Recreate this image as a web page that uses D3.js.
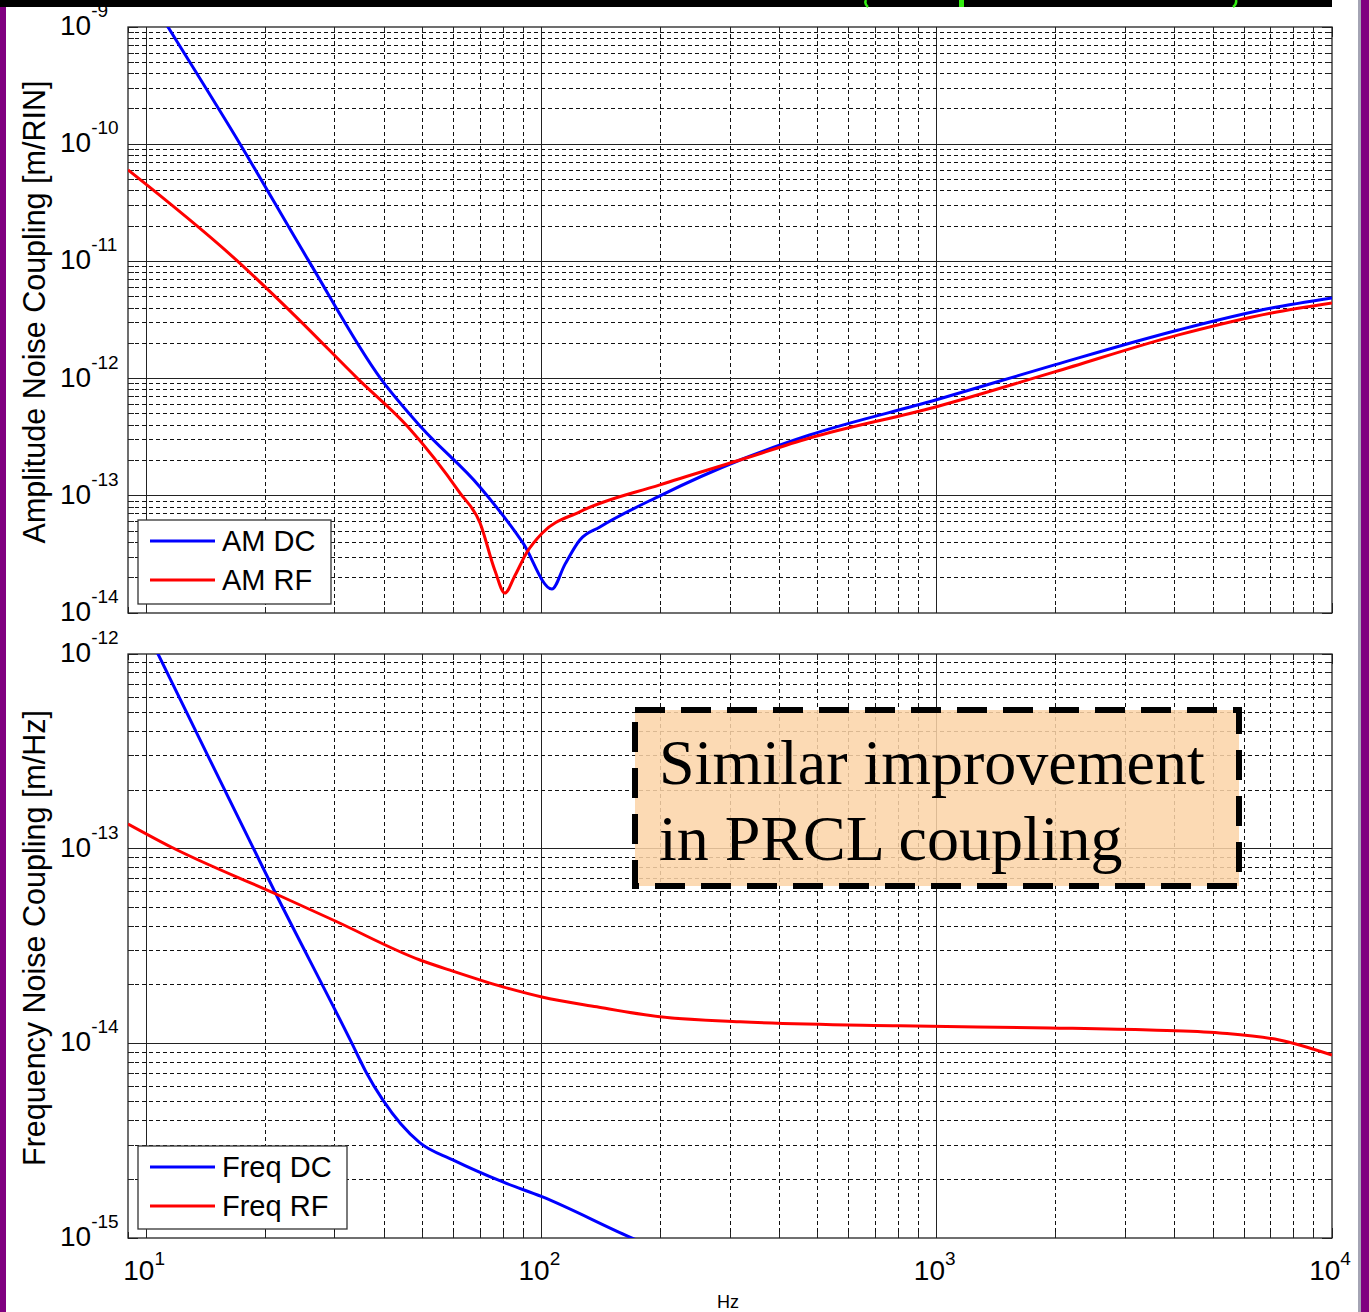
<!DOCTYPE html>
<html>
<head>
<meta charset="utf-8">
<script src="https://cdn.jsdelivr.net/npm/d3@7"></script>
<style>
body { margin: 0; background: #fff; }
</style>
</head>
<body>
<svg id="chart" width="1369" height="1312"></svg>
<script>

// data (Hz, coupling)
var amDcFreq = [10, 11.36, 17.3, 25.7, 39.3, 49.6, 69.9, 89.8, 106.3, 114.7, 125.1, 140.6, 199.4, 318, 477, 994, 1987, 4090, 7030, 10000];
var amDcVal  = [2.0e-9, 1e-9, 1.0e-10, 1.03e-11, 9.9e-13, 3.86e-13, 1.19e-13, 3.96e-14, 1.6e-14, 2.6e-14, 4.2e-14, 5.42e-14, 1.0e-13, 2.02e-13, 3.3e-13, 6.56e-13, 1.31e-12, 2.6e-12, 4.0e-12, 4.88e-12];

var amRfFreq = [9, 16.9, 24.1, 34.4, 46.0, 62.2, 69.9, 76.2, 80.8, 85.8, 91.9, 100.4, 125, 199.4, 318, 477, 994, 1987, 4090, 7030, 10000];
var amRfVal  = [6.03e-11, 1.03e-11, 3.3e-12, 9.9e-13, 3.86e-13, 1.06e-13, 5.9e-14, 2.33e-14, 1.48e-14, 2.1e-14, 3.3e-14, 4.8e-14, 7.3e-14, 1.24e-13, 2.02e-13, 3.11e-13, 5.73e-13, 1.14e-12, 2.36e-12, 3.63e-12, 4.42e-12];

var fqDcFreq = [10, 10.72, 21.3, 33.0, 36.0, 39.7, 49.3, 59.7, 79.9, 100.3, 167.4, 199.4];
var fqDcVal  = [1.33e-12, 1e-12, 5.85e-14, 1.02e-14, 7.13e-15, 5.12e-15, 3.08e-15, 2.52e-15, 1.94e-15, 1.63e-15, 1.01e-15, 8.67e-16];

var fqRfFreq = [9, 11.57, 21.3, 30.1, 49.3, 59.7, 79.9, 100.3, 138.1, 199.4, 318, 806, 1931, 3458, 5195, 7360, 10000];
var fqRfVal  = [1.34e-13, 1.02e-13, 5.85e-14, 4.25e-14, 2.68e-14, 2.35e-14, 1.95e-14, 1.73e-14, 1.54e-14, 1.37e-14, 1.29e-14, 1.23e-14, 1.2e-14, 1.17e-14, 1.13e-14, 1.04e-14, 8.7e-15];

var topLegend = ['AM DC', 'AM RF'];
var botLegend = ['Freq DC', 'Freq RF'];
var topTitle = 'Amplitude Noise Coupling [m/RIN]';
var botTitle = 'Frequency Noise Coupling [m/Hz]';
var noteLines = ['Similar improvement', 'in PRCL coupling'];

var xDomain = [9, 10000];
var topDomain = [1e-14, 1e-9];
var botDomain = [1e-15, 1e-12];

var left = 128, right = 1332;
var sans = 'Liberation Sans, Arial, sans-serif';

var svg = d3.select('#chart');

// page frame bits
svg.append('rect').attr('x', 0).attr('y', 0).attr('width', 6).attr('height', 1312).attr('fill', '#800080');
svg.append('rect').attr('x', 1358).attr('y', 0).attr('width', 3).attr('height', 1312).attr('fill', '#a4a4b4');
svg.append('rect').attr('x', 1361).attr('y', 0).attr('width', 8).attr('height', 1312).attr('fill', '#800080');
svg.append('rect').attr('x', 0).attr('y', 0).attr('width', 1332).attr('height', 7).attr('fill', '#000');
svg.append('path').attr('d', 'M866,0 Q864,4 868,7').attr('stroke', '#33ee11').attr('stroke-width', 2.5).attr('fill', 'none');
svg.append('rect').attr('x', 959).attr('y', 0).attr('width', 5).attr('height', 7).attr('fill', '#33ee11');
svg.append('path').attr('d', 'M1236,0 Q1237,4 1233,7').attr('stroke', '#33ee11').attr('stroke-width', 2.5).attr('fill', 'none');

var xScale = d3.scaleLog().domain(xDomain).range([left, right]);

function isMajor(v) {
	var l = Math.log10(v);
	return Math.abs(l - Math.round(l)) < 1e-6;
}

function drawPanel(id, top, bottom, yDomain, series, legendNames, legendBox, title) {

	var yScale = d3.scaleLog().domain(yDomain).range([bottom, top]);

	var g = svg.append('g');

	g.append('clipPath').attr('id', 'clip' + id)
		.append('rect').attr('x', left).attr('y', top).attr('width', right - left).attr('height', bottom - top);

	var xt = xScale.ticks();
	var yt = yScale.ticks();

	// grid
	var grid = g.append('g').attr('shape-rendering', 'crispEdges');
	xt.forEach(function(t) {
		if (t <= xDomain[0] || t >= xDomain[1]) return;
		var m = isMajor(t);
		grid.append('line')
			.attr('x1', xScale(t)).attr('x2', xScale(t))
			.attr('y1', top).attr('y2', bottom)
			.attr('stroke', m ? '#222' : '#111')
			.attr('stroke-width', 1)
			.attr('stroke-dasharray', m ? null : '4,3');
	});
	yt.forEach(function(t) {
		if (t <= yDomain[0] || t >= yDomain[1]) return;
		var m = isMajor(t);
		grid.append('line')
			.attr('x1', left).attr('x2', right)
			.attr('y1', yScale(t)).attr('y2', yScale(t))
			.attr('stroke', m ? '#222' : '#111')
			.attr('stroke-width', 1)
			.attr('stroke-dasharray', m ? null : '4,3');
	});

	// inward ticks on all sides
	xt.forEach(function(t) {
		var len = isMajor(t) ? 10 : 6;
		grid.append('line').attr('x1', xScale(t)).attr('x2', xScale(t)).attr('y1', bottom).attr('y2', bottom - len).attr('stroke', '#222');
		grid.append('line').attr('x1', xScale(t)).attr('x2', xScale(t)).attr('y1', top).attr('y2', top + len).attr('stroke', '#222');
	});
	yt.forEach(function(t) {
		var len = isMajor(t) ? 10 : 6;
		grid.append('line').attr('x1', left).attr('x2', left + len).attr('y1', yScale(t)).attr('y2', yScale(t)).attr('stroke', '#222');
		grid.append('line').attr('x1', right).attr('x2', right - len).attr('y1', yScale(t)).attr('y2', yScale(t)).attr('stroke', '#222');
	});

	g.append('rect')
		.attr('x', left).attr('y', top)
		.attr('width', right - left).attr('height', bottom - top)
		.attr('fill', 'none').attr('stroke', '#222').attr('stroke-width', 1.3);

	// y tick labels (decades)
	yt.filter(isMajor).forEach(function(t) {
		var e = Math.round(Math.log10(t));
		var txt = g.append('text')
			.attr('x', 60).attr('y', yScale(t) + 8)
			.attr('font-family', sans).attr('fill', '#000');
		txt.append('tspan').attr('font-size', 28).text('10');
		txt.append('tspan').attr('font-size', 19).attr('dy', -18).text(e);
	});

	// curves
	var lineGen = d3.line()
		.x(function(d){ return xScale(d[0]); })
		.y(function(d){ return yScale(d[1]); })
		.curve(d3.curveMonotoneX);

	var plot = g.append('g').attr('clip-path', 'url(#clip' + id + ')');
	series.forEach(function(s) {
		var pts = d3.zip(s.f, s.v);
		plot.append('path')
			.datum(pts)
			.attr('fill', 'none')
			.attr('stroke', s.color)
			.attr('stroke-width', 3)
			.attr('stroke-linejoin', 'round')
			.attr('d', lineGen);
	});

	// legend
	var lg = g.append('g');
	lg.append('rect')
		.attr('x', legendBox.x).attr('y', legendBox.y)
		.attr('width', legendBox.w).attr('height', legendBox.h)
		.attr('fill', '#fff').attr('stroke', '#333').attr('stroke-width', 1.3);
	legendNames.forEach(function(name, i) {
		var ly = legendBox.y + 21 + i * 39;
		lg.append('line')
			.attr('x1', legendBox.x + 12).attr('x2', legendBox.x + 77)
			.attr('y1', ly).attr('y2', ly)
			.attr('stroke', series[i].color).attr('stroke-width', 3);
		lg.append('text')
			.attr('x', legendBox.x + 84).attr('y', ly + 10)
			.attr('font-family', sans).attr('font-size', 29)
			.text(name);
	});

	// axis title
	g.append('text')
		.attr('transform', 'translate(45,' + ((top + bottom) / 2 - 8) + ') rotate(-90)')
		.attr('text-anchor', 'middle')
		.attr('font-family', sans).attr('font-size', 30.5)
		.text(title);

	return yScale;
}

drawPanel('top', 27, 613, topDomain, [
	{ f: amDcFreq, v: amDcVal, color: '#0000ff' },
	{ f: amRfFreq, v: amRfVal, color: '#ff0000' }
], topLegend, { x: 138, y: 520, w: 193, h: 84 }, topTitle);

drawPanel('bot', 654, 1238, botDomain, [
	{ f: fqDcFreq, v: fqDcVal, color: '#0000ff' },
	{ f: fqRfFreq, v: fqRfVal, color: '#ff0000' }
], botLegend, { x: 138, y: 1146, w: 209, h: 83 }, botTitle);

// x tick labels under the bottom panel
xScale.ticks().filter(isMajor).forEach(function(t) {
	var e = Math.round(Math.log10(t));
	var txt = svg.append('text')
		.attr('x', xScale(t) - 2).attr('y', 1280)
		.attr('text-anchor', 'middle')
		.attr('font-family', sans).attr('fill', '#000');
	txt.append('tspan').attr('font-size', 28).text('10');
	txt.append('tspan').attr('font-size', 19).attr('dy', -15).text(e);
});

svg.append('text')
	.attr('x', 728).attr('y', 1308)
	.attr('text-anchor', 'middle')
	.attr('font-family', sans).attr('font-size', 18)
	.text('Hz');

// annotation box
var note = svg.append('g');
note.append('rect')
	.attr('x', 635).attr('y', 710)
	.attr('width', 604).attr('height', 176)
	.attr('fill', 'rgb(252,212,168)').attr('fill-opacity', 0.86)
	.attr('stroke', '#000').attr('stroke-width', 6)
	.attr('stroke-dasharray', '30,16');
noteLines.forEach(function(s, i) {
	note.append('text')
		.attr('x', 659).attr('y', 784 + i * 76)
		.attr('font-family', 'Liberation Serif, Times New Roman, serif')
		.attr('font-size', 64)
		.text(s);
});

</script>
</body>
</html>
